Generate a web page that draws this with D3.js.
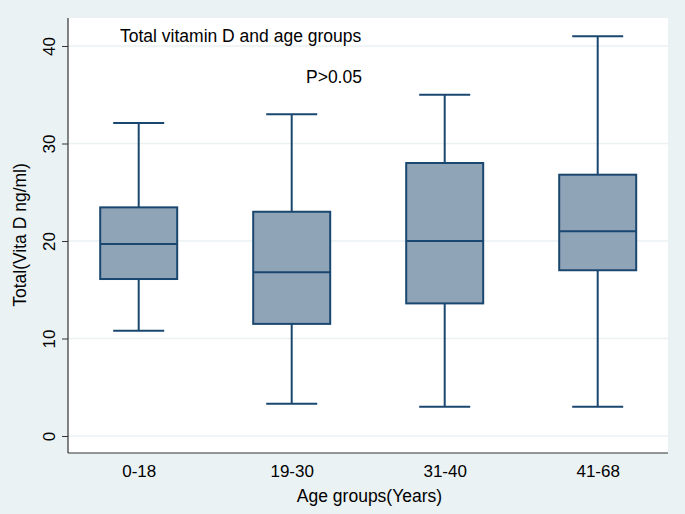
<!DOCTYPE html>
<html><head><meta charset="utf-8">
<script src="https://cdn.jsdelivr.net/npm/d3@7"></script>
<style>body{margin:0;background:#eaf2f3;} svg{display:block;font-family:"Liberation Sans",Arial,Helvetica,sans-serif;}</style>
</head><body>
<svg id="c" width="685" height="514"></svg>
<script>
const categories = ["0-18", "19-30", "31-40", "41-68"];
const whiskerLow = [10.8, 3.3, 3.0, 3.0];
const q1 = [16.1, 11.5, 13.6, 17.0];
const median = [19.7, 16.8, 20.0, 21.0];
const q3 = [23.45, 23.0, 28.0, 26.8];
const whiskerHigh = [32.1, 33.0, 35.0, 41.0];
const yTicks = [0, 10, 20, 30, 40];

const svg = d3.select("#c");
const W = 685, H = 514;
const plot = {left: 68, top: 18, right: 668, bottom: 453};

svg.append("rect").attr("width", W).attr("height", H).attr("fill", "#eaf2f3");
svg.append("rect").attr("x", plot.left).attr("y", plot.top)
  .attr("width", plot.right - plot.left).attr("height", plot.bottom - plot.top).attr("fill", "#ffffff");

const y = d3.scaleLinear().domain([0, 40]).range([436, 46]);
const x = d3.scalePoint().domain(categories).range([138.7, 597.7]);
const boxW = 77, capW = 51;

// grid
svg.append("g").selectAll("line").data(yTicks).join("line")
  .attr("x1", plot.left).attr("x2", plot.right)
  .attr("y1", d => y(d)).attr("y2", d => y(d))
  .attr("stroke", "#eaf2f3").attr("stroke-width", 1.5);

// y axis
const yAxis = svg.append("g").attr("transform", `translate(${plot.left},0)`)
  .call(d3.axisLeft(y).tickValues(yTicks).tickSize(6).tickPadding(0));
yAxis.select(".domain").remove();
yAxis.selectAll(".tick line").attr("stroke", "#333");
yAxis.selectAll(".tick text").attr("transform", "rotate(-90)")
  .attr("x", 0).attr("y", -13.5).attr("dy", 0).attr("text-anchor", "middle")
  .attr("font-size", 17).attr("fill", "#000");
svg.append("line").attr("x1", plot.left).attr("x2", plot.left)
  .attr("y1", plot.top).attr("y2", plot.bottom).attr("stroke", "#333").attr("stroke-width", 1.2);

// x axis
const xAxis = svg.append("g").attr("transform", `translate(0,${plot.bottom})`)
  .call(d3.axisBottom(x).tickSize(0).tickPadding(12));
xAxis.select(".domain").remove();
xAxis.selectAll(".tick text").attr("font-size", 17).attr("fill", "#000").attr("dy", "0.71em");
svg.append("line").attr("x1", plot.left).attr("x2", plot.right)
  .attr("y1", plot.bottom).attr("y2", plot.bottom).attr("stroke", "#333").attr("stroke-width", 1.2);

// boxes
const stroke = "#1a476f", fill = "#90a4b8";
const g = svg.append("g");
categories.forEach((c, i) => {
  const cx = x(c);
  const gg = g.append("g");
  gg.append("line").attr("x1", cx).attr("x2", cx).attr("y1", y(q3[i])).attr("y2", y(whiskerHigh[i]))
    .attr("stroke", stroke).attr("stroke-width", 2);
  gg.append("line").attr("x1", cx).attr("x2", cx).attr("y1", y(q1[i])).attr("y2", y(whiskerLow[i]))
    .attr("stroke", stroke).attr("stroke-width", 2);
  gg.append("line").attr("x1", cx - capW/2).attr("x2", cx + capW/2).attr("y1", y(whiskerHigh[i])).attr("y2", y(whiskerHigh[i]))
    .attr("stroke", stroke).attr("stroke-width", 2);
  gg.append("line").attr("x1", cx - capW/2).attr("x2", cx + capW/2).attr("y1", y(whiskerLow[i])).attr("y2", y(whiskerLow[i]))
    .attr("stroke", stroke).attr("stroke-width", 2);
  gg.append("rect").attr("x", cx - boxW/2).attr("y", y(q3[i])).attr("width", boxW)
    .attr("height", y(q1[i]) - y(q3[i])).attr("fill", fill).attr("stroke", stroke).attr("stroke-width", 2);
  gg.append("line").attr("x1", cx - boxW/2).attr("x2", cx + boxW/2).attr("y1", y(median[i])).attr("y2", y(median[i]))
    .attr("stroke", stroke).attr("stroke-width", 2);
});

// texts
svg.append("text").attr("x", 120).attr("y", 41.5).attr("font-size", 17.5).attr("fill", "#000")
  .text("Total vitamin D and age groups");
svg.append("text").attr("x", 306).attr("y", 83).attr("font-size", 17.5).attr("fill", "#000")
  .text("P>0.05");
svg.append("text").attr("x", 369.5).attr("y", 502).attr("text-anchor", "middle")
  .attr("font-size", 17.5).attr("fill", "#000").text("Age groups(Years)");
svg.append("text").attr("transform", `translate(26,235) rotate(-90)`)
  .attr("text-anchor", "middle").attr("font-size", 17.5).attr("fill", "#000").text("Total(Vita D ng/ml)");
</script>
</body></html>
